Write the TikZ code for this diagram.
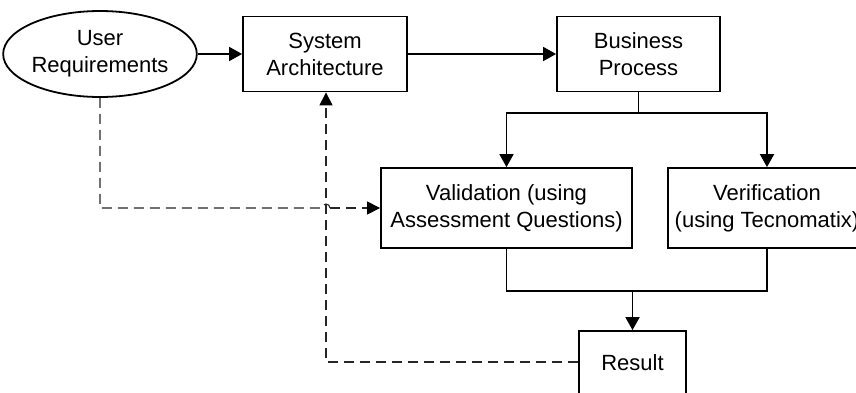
\documentclass[tikz,border=0pt]{standalone}
\usepackage{fontspec}
\setmainfont{Liberation Sans}
\usetikzlibrary{shapes.geometric,arrows.meta}
\begin{document}
\begin{tikzpicture}[x=1pt,y=-1pt,
  every node/.style={font=\fontsize{22}{27}\selectfont, align=center, inner sep=0pt},
  procbox/.style={draw, line width=1.8pt, rectangle},
  flow/.style={line width=1.8pt, -{Triangle[length=13pt,width=14pt]}},
  plain/.style={line width=1.8pt},
  dashline/.style={line width=1.1pt, dash pattern=on 10pt off 6pt, draw=black!85},
  dasharrow/.style={dashline, -{Triangle[length=13pt,width=13pt,color=black,fill=black]}}]
\useasboundingbox (0,0) rectangle (856,392);
\clip (0,0) rectangle (856,392);
\fill[white] (0,0) rectangle (856,392);

% nodes
\node[ellipse, draw, line width=1.8pt, minimum width=176pt, minimum height=86pt] (ur) at (100,54) {User\\Requirements};
\node[procbox, minimum width=164pt, minimum height=75pt] (sa) at (325,54) {System\\Architecture};
\node[procbox, minimum width=163pt, minimum height=75pt] (bp) at (638.5,54) {Business\\Process};
\node[procbox, minimum width=251pt, minimum height=80pt] (val) at (506.5,208) {Validation (using\\Assessment Questions)};
\node[procbox, minimum width=198pt, minimum height=80pt] (ver) at (767,208) {Verification\\(using Tecnomatix)};
\node[procbox, minimum width=107pt, minimum height=64pt] (res) at (632.5,363) {Result};

% split and merge points
\coordinate (split) at (638.5,113);
\coordinate (merge) at (632.5,291);
\coordinate (fb) at (326,362);
\coordinate (hop) at (326,208);

% main flow
\draw[flow] (ur.east) -- (sa.west);
\draw[flow] (sa.east) -- (bp.west);
\draw[plain] (bp.south) -- (split);
\draw[flow] (split) -| (val.north);
\draw[flow] (split) -| (ver.north);
\draw[plain] (val.south) |- (merge);
\draw[plain] (ver.south) |- (merge);
\draw[flow] (merge) -- (res.north);

% dashed feedback from the result back to the architecture
\draw[dasharrow] (res.west |- fb) -- (fb) -- (sa.south -| fb);

% dashed requirement link into validation, hopping over the feedback line
\draw[dashline] (ur.south) |- ([xshift=-4pt]hop) arc[start angle=180, end angle=0, radius=4pt];
\draw[dasharrow] ([xshift=4pt]hop) -- (val.west);
\end{tikzpicture}
\end{document}
